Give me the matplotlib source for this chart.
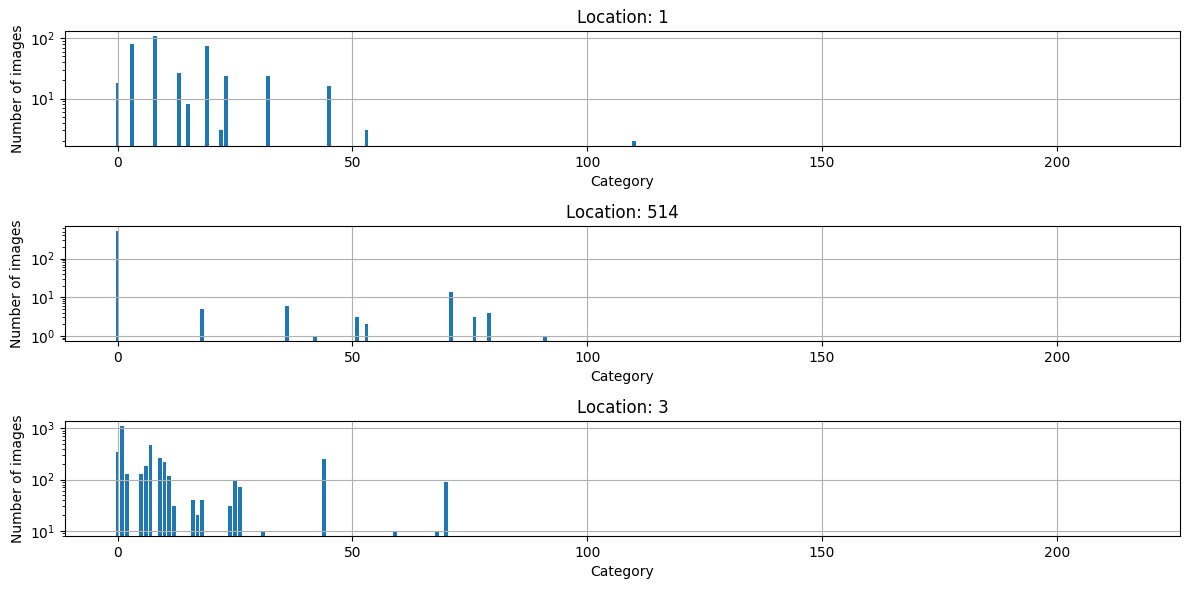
import numpy as np
import matplotlib
matplotlib.use("Agg")
import matplotlib.pyplot as plt

n_categories = 216

# location 1
loc1_cats = [0, 3, 8, 13, 15, 19, 22, 23, 32, 45, 53, 110]
loc1_counts = [18, 79, 108, 27, 8, 74, 3, 24, 24, 16, 3, 2]

# location 514
loc514_cats = [0, 18, 36, 42, 51, 53, 71, 76, 79, 91]
loc514_counts = [510, 5, 6, 1, 3, 2, 14, 3, 4, 1]

# location 3
loc3_cats = [0, 1, 2, 5, 6, 7, 9, 10, 11, 12, 16, 17, 18, 24, 25, 26, 31, 44, 59, 68, 70]
loc3_counts = [340, 1100, 130, 130, 180, 464, 258, 225, 120, 31, 40, 20, 40,
               31, 96, 70, 10, 250, 10, 10, 91]

locations = ["1", "514", "3"]
cats_list = [loc1_cats, loc514_cats, loc3_cats]
counts_list = [loc1_counts, loc514_counts, loc3_counts]

fig, axes = plt.subplots(3, 1, figsize=(11.89, 5.89), dpi=100)
for ax, loc, cats, counts in zip(axes, locations, cats_list, counts_list):
    full = np.zeros(n_categories)
    full[cats] = counts
    ax.bar(np.arange(n_categories), full, log=True)
    ax.set_title("Location: " + loc)
    ax.set_xlabel("Category")
    ax.set_ylabel("Number of images")
    ax.grid(True)

fig.subplots_adjust(left=0.0547, right=0.9924, top=0.9474, bottom=0.090, hspace=0.696)
plt.savefig("out.png")
